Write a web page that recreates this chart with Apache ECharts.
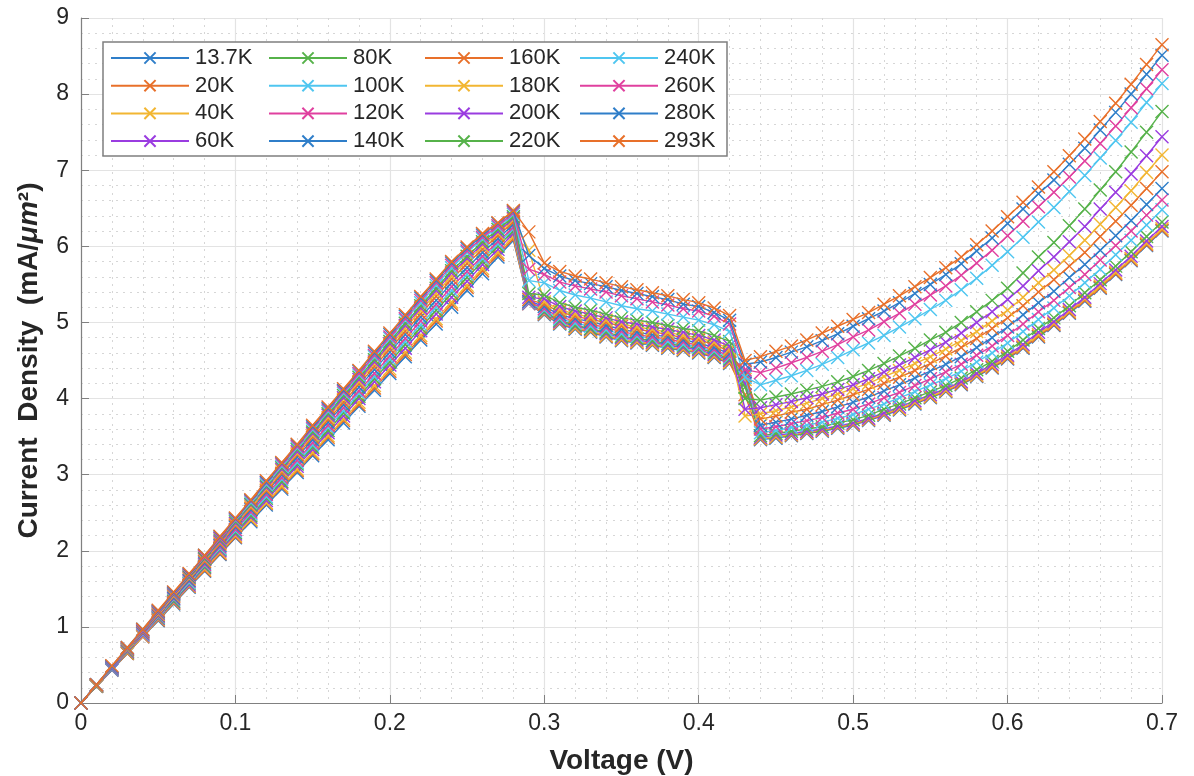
<!DOCTYPE html>
<html>
<head>
<meta charset="utf-8">
<script src="https://cdn.jsdelivr.net/npm/echarts@6/dist/echarts.min.js"></script>
<style>
html,body{margin:0;padding:0;background:#fff;}
#chart{width:1194px;height:776px;}
</style>
</head>
<body>
<div id="chart"></div>
<script>
const voltage = [0,0.01,0.02,0.03,0.04,0.05,0.06,0.07,0.08,0.09,0.1,0.11,0.12,0.13,0.14,0.15,0.16,0.17,0.18,0.19,0.2,0.21,0.22,0.23,0.24,0.25,0.26,0.27,0.28,0.29,0.3,0.31,0.32,0.33,0.34,0.35,0.36,0.37,0.38,0.39,0.4,0.41,0.42,0.43,0.44,0.45,0.46,0.47,0.48,0.49,0.5,0.51,0.52,0.53,0.54,0.55,0.56,0.57,0.58,0.59,0.6,0.61,0.62,0.63,0.64,0.65,0.66,0.67,0.68,0.69,0.7];

const seriesNames = ['13.7K','20K','40K','60K','80K','100K','120K','140K','160K','180K','200K','220K','240K','260K','280K','293K'];

const s13_7 = [0,.22,.43,.65,.87,1.08,1.30,1.52,1.73,1.95,2.17,2.38,2.60,2.81,3.03,3.25,3.46,3.68,3.90,4.11,4.33,4.55,4.77,4.98,5.20,5.42,5.64,5.86,6.08,
5.25,5.10,4.98,4.91,4.87,4.81,4.76,4.73,4.70,4.66,4.63,4.60,4.54,4.46,
4.20,
3.46,3.48,3.51,3.54,3.57,3.61,3.65,3.71,3.78,3.85,3.93,4.01,4.09,4.18,4.29,4.40,4.52,4.66,4.81,4.96,5.12,5.28,5.45,5.63,5.81,6.01,6.20];
const s20 = [0,.22,.44,.65,.87,1.09,1.31,1.53,1.74,1.96,2.18,2.40,2.62,2.83,3.05,3.27,3.49,3.71,3.92,4.14,4.36,4.58,4.80,5.02,5.24,5.46,5.68,5.89,6.10,
5.25,5.11,4.99,4.92,4.88,4.82,4.77,4.74,4.71,4.67,4.64,4.61,4.55,4.47,
4.05,
3.47,3.49,3.52,3.55,3.58,3.62,3.66,3.72,3.79,3.86,3.94,4.02,4.10,4.19,4.30,4.41,4.53,4.67,4.82,4.97,5.13,5.29,5.46,5.64,5.82,6.02,6.21];
const s40 = [0,.22,.44,.66,.88,1.10,1.32,1.54,1.76,1.98,2.20,2.41,2.63,2.85,3.07,3.29,3.51,3.73,3.95,4.17,4.39,4.61,4.83,5.05,5.27,5.49,5.71,5.92,6.13,
5.25,5.12,5.00,4.93,4.89,4.83,4.78,4.75,4.72,4.68,4.65,4.62,4.56,4.48,
4.25,
3.48,3.50,3.53,3.56,3.59,3.63,3.67,3.73,3.80,3.87,3.95,4.03,4.11,4.21,4.31,4.43,4.55,4.69,4.84,4.99,5.15,5.31,5.48,5.66,5.84,6.04,6.23];
const s60 = [0,.22,.44,.67,.89,1.11,1.33,1.55,1.78,2.00,2.22,2.44,2.66,2.89,3.11,3.33,3.55,3.77,4.00,4.22,4.44,4.66,4.89,5.11,5.33,5.54,5.76,5.96,6.17,
5.25,5.13,5.01,4.95,4.91,4.85,4.80,4.77,4.74,4.70,4.67,4.64,4.58,4.50,
4.20,
3.49,3.52,3.54,3.57,3.60,3.64,3.68,3.74,3.81,3.89,3.97,4.05,4.13,4.22,4.33,4.45,4.57,4.71,4.87,5.01,5.17,5.33,5.51,5.69,5.87,6.07,6.26];
const s80 = [0,.22,.45,.67,.90,1.12,1.34,1.57,1.79,2.02,2.24,2.46,2.69,2.91,3.14,3.36,3.58,3.81,4.03,4.26,4.48,4.71,4.93,5.16,5.38,5.59,5.80,6.00,6.20,
5.26,5.14,5.03,4.96,4.92,4.87,4.82,4.79,4.76,4.72,4.69,4.66,4.60,4.52,
4.15,
3.51,3.54,3.57,3.60,3.63,3.68,3.72,3.78,3.86,3.93,4.01,4.09,4.17,4.27,4.38,4.49,4.62,4.77,4.92,5.06,5.22,5.39,5.56,5.74,5.93,6.13,6.32];
const s100 = [0,.23,.45,.68,.90,1.13,1.36,1.58,1.81,2.03,2.26,2.49,2.71,2.94,3.16,3.39,3.62,3.84,4.07,4.29,4.52,4.75,4.97,5.20,5.42,5.63,5.84,6.03,6.23,
5.26,5.16,5.05,4.99,4.95,4.90,4.85,4.82,4.79,4.75,4.71,4.68,4.62,4.54,
4.28,
3.55,3.58,3.62,3.65,3.69,3.74,3.79,3.86,3.93,4.01,4.09,4.18,4.26,4.36,4.48,4.60,4.73,4.88,5.04,5.19,5.35,5.52,5.70,5.89,6.08,6.28,6.48];
const s120 = [0,.23,.46,.68,.91,1.14,1.37,1.60,1.82,2.05,2.28,2.51,2.74,2.96,3.19,3.42,3.65,3.88,4.10,4.33,4.56,4.79,5.02,5.24,5.47,5.67,5.87,6.06,6.25,
5.27,5.18,5.07,5.02,4.98,4.93,4.88,4.84,4.81,4.78,4.74,4.70,4.64,4.56,
4.32,
3.60,3.63,3.67,3.71,3.75,3.81,3.86,3.93,4.01,4.08,4.17,4.26,4.35,4.45,4.57,4.69,4.83,4.98,5.14,5.29,5.46,5.63,5.82,6.01,6.20,6.41,6.61];
const s140 = [0,.23,.46,.69,.92,1.15,1.38,1.61,1.84,2.07,2.31,2.54,2.77,3.00,3.23,3.46,3.69,3.92,4.15,4.38,4.61,4.84,5.07,5.29,5.52,5.72,5.92,6.10,6.29,
5.28,5.21,5.10,5.05,5.01,4.96,4.91,4.87,4.84,4.81,4.77,4.73,4.67,4.59,
4.35,
3.65,3.69,3.73,3.78,3.83,3.89,3.95,4.02,4.10,4.18,4.27,4.36,4.45,4.55,4.67,4.80,4.94,5.10,5.26,5.41,5.59,5.76,5.95,6.14,6.34,6.55,6.76];
const s160 = [0,.23,.47,.70,.93,1.16,1.40,1.63,1.86,2.09,2.33,2.56,2.79,3.02,3.26,3.49,3.72,3.95,4.19,4.42,4.65,4.88,5.11,5.34,5.57,5.77,5.96,6.14,6.32,
5.30,5.24,5.14,5.08,5.04,5.00,4.95,4.91,4.88,4.84,4.80,4.77,4.71,4.62,
4.30,
3.73,3.77,3.82,3.86,3.92,3.98,4.05,4.12,4.20,4.28,4.37,4.46,4.56,4.67,4.79,4.92,5.06,5.22,5.40,5.56,5.74,5.92,6.13,6.33,6.54,6.76,6.98];
const s180 = [0,.23,.47,.70,.94,1.17,1.41,1.64,1.88,2.11,2.35,2.58,2.81,3.05,3.28,3.52,3.75,3.99,4.22,4.46,4.69,4.92,5.16,5.38,5.61,5.81,6.00,6.17,6.35,
5.95,5.27,5.17,5.11,5.07,5.03,4.98,4.94,4.91,4.87,4.83,4.80,4.74,4.65,
3.77,
3.80,3.84,3.89,3.94,4.00,4.06,4.13,4.20,4.29,4.37,4.46,4.55,4.65,4.76,4.88,5.02,5.16,5.33,5.52,5.69,5.88,6.08,6.29,6.51,6.73,6.97,7.20];
const s200 = [0,.24,.47,.71,.94,1.18,1.42,1.65,1.89,2.12,2.36,2.60,2.83,3.07,3.30,3.54,3.78,4.01,4.25,4.48,4.72,4.96,5.19,5.42,5.65,5.84,6.03,6.19,6.37,
5.33,5.31,5.21,5.15,5.11,5.06,5.01,4.98,4.94,4.91,4.87,4.83,4.77,4.69,
3.86,
3.88,3.92,3.96,4.01,4.06,4.12,4.18,4.26,4.35,4.44,4.54,4.64,4.74,4.86,5.00,5.14,5.30,5.48,5.68,5.86,6.06,6.26,6.49,6.71,6.95,7.19,7.44];
const s220 = [0,.24,.48,.71,.95,1.19,1.43,1.66,1.90,2.14,2.38,2.61,2.85,3.09,3.33,3.56,3.80,4.04,4.28,4.51,4.75,4.99,5.22,5.45,5.68,5.87,6.06,6.22,6.39,
5.38,5.36,5.26,5.20,5.16,5.11,5.06,5.03,5.00,4.96,4.92,4.89,4.83,4.75,
4.00,
3.98,4.02,4.06,4.11,4.16,4.22,4.29,4.37,4.46,4.56,4.66,4.77,4.87,5.00,5.14,5.29,5.45,5.65,5.86,6.05,6.27,6.49,6.74,6.98,7.24,7.50,7.77];
const s240 = [0,.24,.48,.72,.96,1.20,1.44,1.68,1.92,2.16,2.40,2.63,2.87,3.11,3.35,3.59,3.83,4.07,4.31,4.55,4.79,5.03,5.26,5.49,5.72,5.92,6.10,6.25,6.42,
5.55,5.52,5.42,5.36,5.32,5.27,5.22,5.18,5.15,5.11,5.07,5.03,4.97,4.88,
4.28,
4.18,4.24,4.30,4.37,4.45,4.54,4.64,4.73,4.83,4.94,5.05,5.17,5.29,5.43,5.58,5.75,5.93,6.12,6.32,6.51,6.72,6.93,7.16,7.39,7.63,7.89,8.14];
const s260 = [0,.24,.48,.72,.96,1.20,1.44,1.68,1.92,2.16,2.41,2.65,2.89,3.13,3.37,3.61,3.85,4.09,4.33,4.57,4.81,5.05,5.29,5.52,5.75,5.94,6.12,6.27,6.44,
5.70,5.63,5.53,5.48,5.44,5.40,5.35,5.31,5.27,5.23,5.18,5.15,5.08,4.98,
4.38,
4.34,4.40,4.47,4.54,4.62,4.71,4.81,4.90,5.01,5.12,5.24,5.36,5.48,5.62,5.78,5.95,6.14,6.33,6.52,6.71,6.91,7.12,7.35,7.58,7.82,8.07,8.32];
const s280 = [0,.24,.48,.73,.97,1.21,1.45,1.69,1.94,2.18,2.42,2.66,2.90,3.15,3.39,3.63,3.87,4.11,4.36,4.60,4.84,5.08,5.32,5.55,5.78,5.97,6.15,6.30,6.46,
5.88,5.71,5.61,5.55,5.51,5.47,5.42,5.38,5.34,5.30,5.24,5.21,5.13,5.03,
4.45,
4.48,4.54,4.61,4.68,4.76,4.85,4.95,5.05,5.15,5.26,5.38,5.50,5.63,5.77,5.94,6.11,6.30,6.49,6.69,6.87,7.08,7.29,7.53,7.76,8.00,8.26,8.51];
const s293 = [0,.24,.49,.73,.97,1.22,1.46,1.70,1.94,2.19,2.43,2.67,2.92,3.16,3.40,3.65,3.89,4.13,4.37,4.62,4.86,5.10,5.34,5.57,5.80,5.99,6.17,6.31,6.47,
6.19,5.78,5.67,5.61,5.57,5.52,5.47,5.43,5.39,5.35,5.30,5.26,5.19,5.09,
4.50,
4.55,4.62,4.69,4.77,4.86,4.95,5.04,5.13,5.24,5.35,5.47,5.59,5.72,5.86,6.02,6.20,6.39,6.58,6.78,6.98,7.19,7.41,7.64,7.88,8.13,8.39,8.65];

const seriesValues = [s13_7,s20,s40,s60,s80,s100,s120,s140,s160,s180,s200,s220,s240,s260,s280,s293];
const palette = ['#2f7ec9','#e8702a','#f2b632','#9a3ce0','#56b24a','#4fc6f0','#e0409f'];

const xMark = 'path://M0,0L10,10M10,0L0,10';
const FONT = 'Liberation Sans, Arial, sans-serif';

const series = seriesNames.map((name, k) => {
  const c = palette[k % palette.length];
  return {
    name: name,
    type: 'line',
    data: voltage.map((v, i) => [v, seriesValues[k][i]]),
    symbol: xMark,
    symbolSize: 13,
    showSymbol: true,
    showAllSymbol: true,
    lineStyle: { width: 1.4, color: c },
    itemStyle: { color: c, borderColor: c, borderWidth: 1.4 },
    emphasis: { disabled: true },
    animation: false,
    z: 2 + k * 0.01
  };
});

const legendCols = [[0,1,2,3],[4,5,6,7],[8,9,10,11],[12,13,14,15]];
const legendLefts = [110, 268, 424, 579];
const legends = legendCols.map((col, j) => ({
  data: col.map(i => seriesNames[i]),
  orient: 'vertical',
  left: legendLefts[j],
  top: 47,
  itemWidth: 78,
  itemHeight: 14,
  itemGap: 5.7,
  selectedMode: false,
  textStyle: { fontFamily: FONT, fontSize: 22, color: '#262626', padding: [0,0,0,1] },
  padding: 0,
  z: 10
}));

const chart = echarts.init(document.getElementById('chart'), null, { renderer: 'canvas' });
chart.setOption({
  animation: false,
  backgroundColor: '#ffffff',
  grid: { left: 81, right: 32, top: 18, bottom: 73, containLabel: false, outerBoundsMode: 'none' },
  graphic: [{
    type: 'rect',
    shape: { x: 103, y: 42, width: 624, height: 114 },
    style: { fill: '#ffffff', stroke: '#7f7f7f', lineWidth: 1.5 },
    z: 9
  }],
  legend: legends,
  xAxis: {
    type: 'value', min: 0, max: 0.7, interval: 0.1,
    name: 'Voltage (V)', nameLocation: 'middle', nameGap: 44,
    nameTextStyle: { fontFamily: FONT, fontSize: 28, fontWeight: 'bold', color: '#262626' },
    axisLine: { show: true, lineStyle: { color: '#808080', width: 1.2 } },
    axisTick: { show: true, inside: true, length: 8, lineStyle: { color: '#808080' } },
    axisLabel: { fontFamily: FONT, fontSize: 23, color: '#262626', margin: 9, formatter: v => String(+v.toFixed(1)) },
    splitLine: { show: true, lineStyle: { color: '#e3e3e3', width: 1.2 } },
    minorTick: { show: false, splitNumber: 5 },
    minorSplitLine: { show: true, lineStyle: { color: '#d6d6d6', width: 1, type: [2, 5] } }
  },
  yAxis: {
    type: 'value', min: 0, max: 9, interval: 1,
    name: '{b|Current  Density  (mA/}{i|μm}{b|²)}', nameLocation: 'middle', nameGap: 38,
    nameRotate: 90,
    nameTextStyle: {
      fontFamily: FONT, fontSize: 28, fontWeight: 'bold', color: '#262626',
      rich: {
        b: { fontFamily: FONT, fontSize: 28, fontWeight: 'bold', color: '#262626' },
        i: { fontFamily: FONT, fontSize: 28, fontWeight: 'bold', fontStyle: 'italic', color: '#262626' }
      }
    },
    axisLine: { show: true, lineStyle: { color: '#808080', width: 1.2 } },
    axisTick: { show: true, inside: true, length: 8, lineStyle: { color: '#808080' } },
    axisLabel: { fontFamily: FONT, fontSize: 23, color: '#262626', margin: 12 },
    splitLine: { show: true, lineStyle: { color: '#e3e3e3', width: 1.2 } },
    minorTick: { show: false, splitNumber: 5 },
    minorSplitLine: { show: true, lineStyle: { color: '#d6d6d6', width: 1, type: [2, 5] } }
  },
  series: series
});
</script>
</body>
</html>
